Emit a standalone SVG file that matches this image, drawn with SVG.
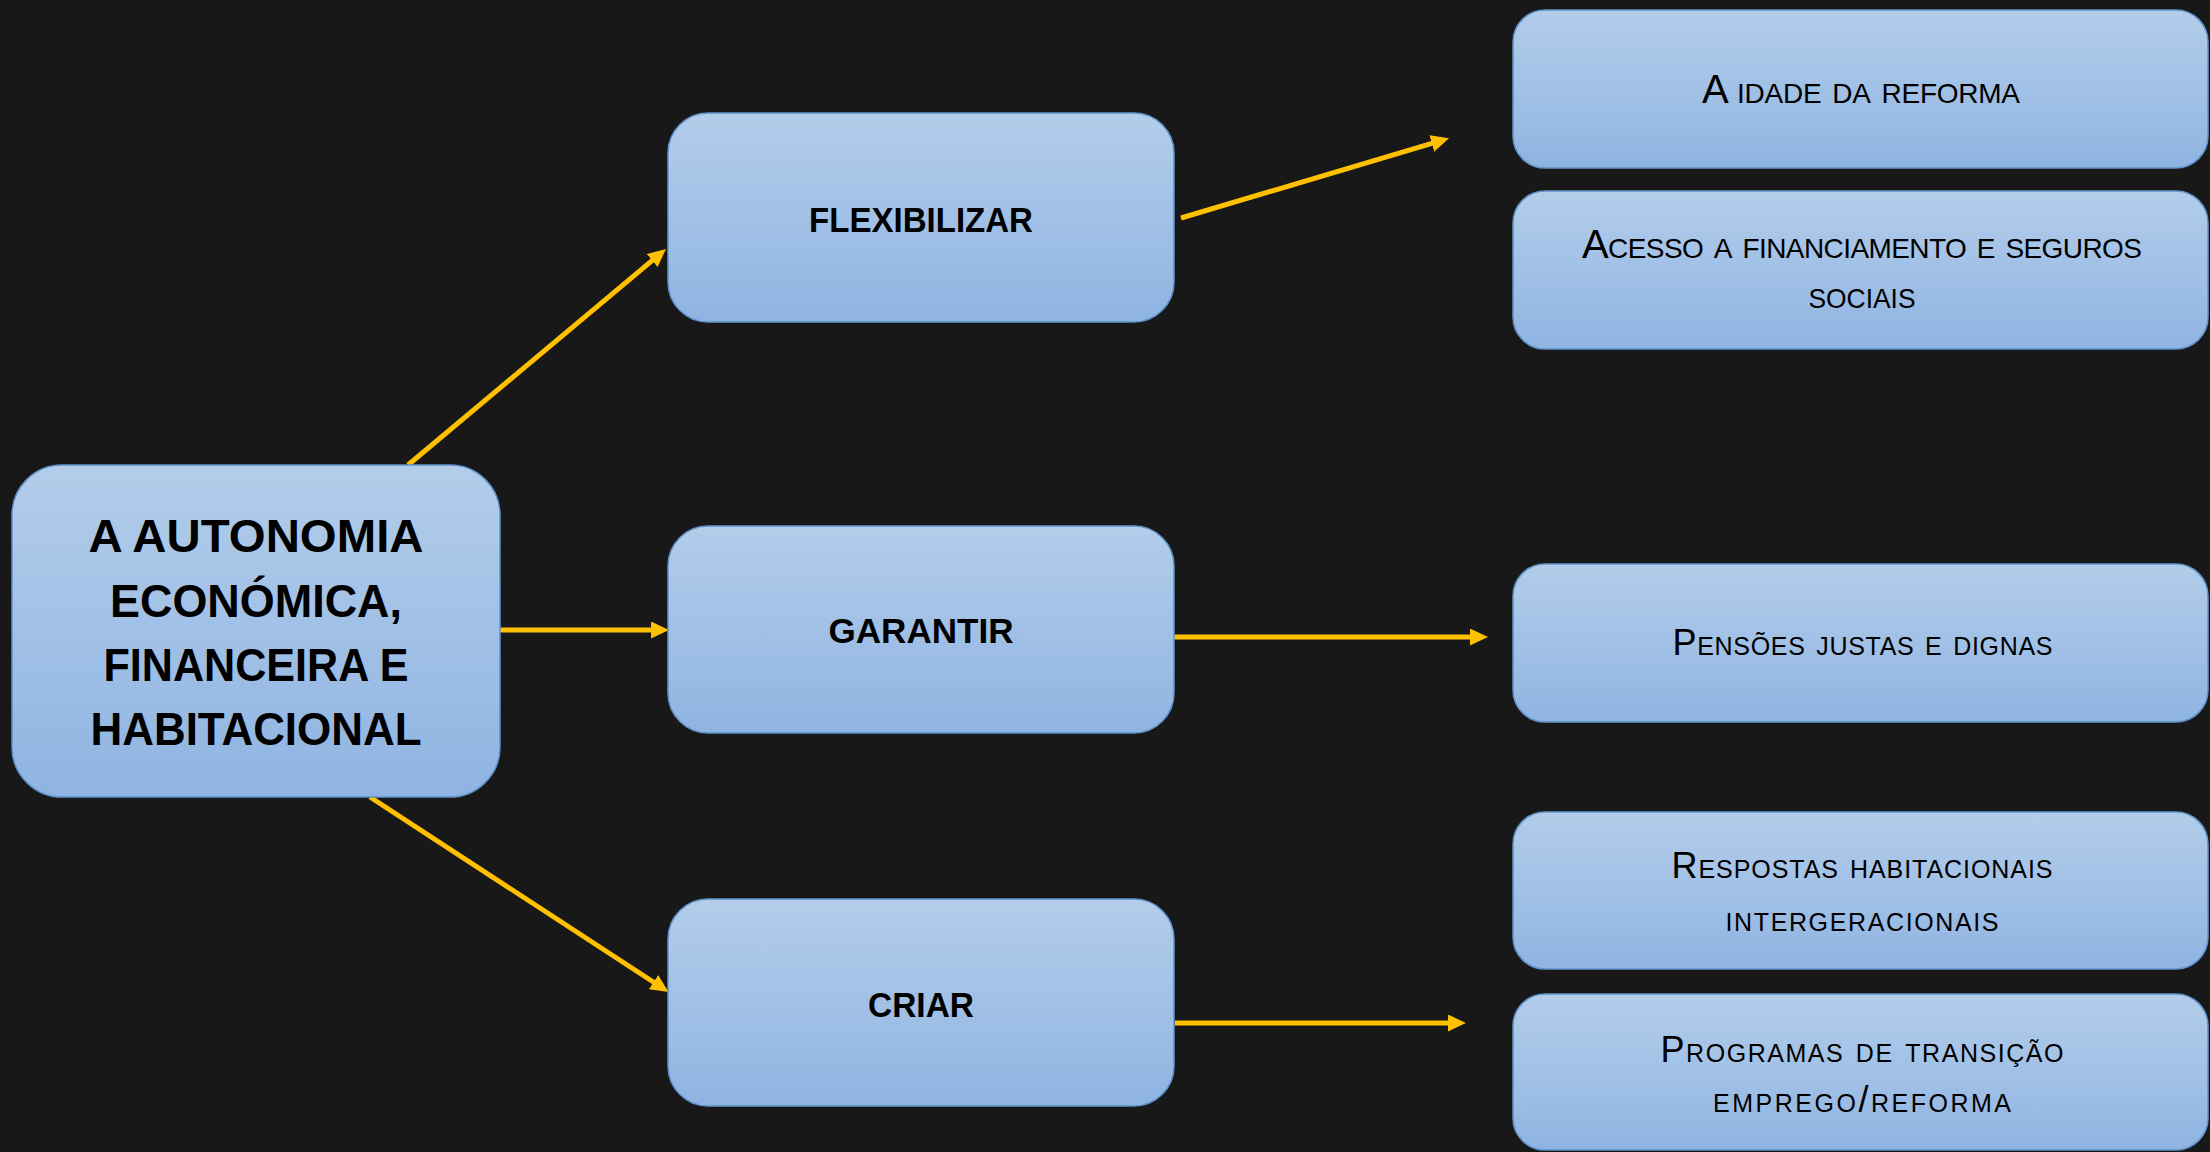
<svg xmlns="http://www.w3.org/2000/svg" width="2210" height="1152" viewBox="0 0 2210 1152">
  <style>
    .box { fill: url(#boxGrad); stroke: #5f93cc; stroke-width: 1.5; }
    .title { font-family: "Liberation Sans", Arial, sans-serif; font-weight: bold; fill: #000; text-anchor: middle; }
    .sc { font-family: "Liberation Sans", Arial, sans-serif; font-variant: small-caps; fill: #000; text-anchor: middle; }
    .conn { stroke: #ffc000; stroke-width: 5; fill: none; marker-end: url(#arrow); }
  </style>
  <defs>
    <linearGradient id="boxGrad" x1="0" y1="0" x2="0" y2="1">
      <stop offset="0" stop-color="#b3cdea"/>
      <stop offset="1" stop-color="#8fb4e2"/>
    </linearGradient>
    <marker id="arrow" markerUnits="userSpaceOnUse" markerWidth="20" markerHeight="18" refX="8" refY="8.5" orient="auto">
      <path d="M0,0 L18,8.5 L0,17 Z" fill="#ffc000"/>
    </marker>
  </defs>
  <rect x="0" y="0" width="2210" height="1152" fill="#181818"/>

  <g id="connectors">
    <line class="conn" x1="408" y1="465" x2="658.3" y2="255.4"/>
    <line class="conn" x1="500" y1="630" x2="659" y2="630"/>
    <line class="conn" x1="370" y1="797" x2="660.2" y2="986.5"/>
    <line class="conn" x1="1181" y1="218" x2="1439.4" y2="141.2"/>
    <line class="conn" x1="1174" y1="637" x2="1478" y2="637"/>
    <line class="conn" x1="1175" y1="1023" x2="1456" y2="1023"/>
  </g>

  <g id="node-main">
    <rect class="box" x="12" y="465" width="488" height="332" rx="50" ry="50"/>
    <text class="title" x="256" y="552" font-size="46" textLength="335" lengthAdjust="spacingAndGlyphs">A AUTONOMIA</text>
    <text class="title" x="256" y="617" font-size="46" textLength="292" lengthAdjust="spacingAndGlyphs">ECONÓMICA,</text>
    <text class="title" x="256" y="681" font-size="46" textLength="305" lengthAdjust="spacingAndGlyphs">FINANCEIRA E</text>
    <text class="title" x="256" y="745" font-size="46" textLength="331" lengthAdjust="spacingAndGlyphs">HABITACIONAL</text>
  </g>

  <g id="node-flexibilizar">
    <rect class="box" x="668" y="113" width="506" height="209" rx="40" ry="40"/>
    <text class="title" x="921" y="232" font-size="35" textLength="224" lengthAdjust="spacingAndGlyphs">FLEXIBILIZAR</text>
  </g>

  <g id="node-garantir">
    <rect class="box" x="668" y="526" width="506" height="207" rx="40" ry="40"/>
    <text class="title" x="921" y="643" font-size="35" textLength="185" lengthAdjust="spacingAndGlyphs">GARANTIR</text>
  </g>

  <g id="node-criar">
    <rect class="box" x="668" y="899" width="506" height="207" rx="40" ry="40"/>
    <text class="title" x="921" y="1017" font-size="35" textLength="106" lengthAdjust="spacingAndGlyphs">CRIAR</text>
  </g>

  <g id="node-idade">
    <rect class="box" x="1513" y="10" width="695" height="158" rx="32" ry="32"/>
    <text class="sc" x="1861" y="103" font-size="40" textLength="318" lengthAdjust="spacing">A idade da reforma</text>
  </g>

  <g id="node-acesso">
    <rect class="box" x="1513" y="191" width="695" height="158" rx="32" ry="32"/>
    <text class="sc" x="1862" y="258" font-size="40" textLength="560" lengthAdjust="spacing">Acesso a financiamento e seguros</text>
    <text class="sc" x="1862" y="308" font-size="40" textLength="107" lengthAdjust="spacingAndGlyphs">sociais</text>
  </g>

  <g id="node-pensoes">
    <rect class="box" x="1513" y="564" width="695" height="158" rx="32" ry="32"/>
    <text class="sc" x="1862.5" y="655" font-size="36" textLength="380" lengthAdjust="spacing">Pensões justas e dignas</text>
  </g>

  <g id="node-respostas">
    <rect class="box" x="1513" y="812" width="695" height="157" rx="32" ry="32"/>
    <text class="sc" x="1862" y="878" font-size="36" textLength="381" lengthAdjust="spacing">Respostas habitacionais</text>
    <text class="sc" x="1862" y="931" font-size="36" textLength="273" lengthAdjust="spacing">intergeracionais</text>
  </g>

  <g id="node-programas">
    <rect class="box" x="1513" y="994" width="695" height="156" rx="32" ry="32"/>
    <text class="sc" x="1862" y="1062" font-size="36" textLength="403" lengthAdjust="spacing">Programas de transição</text>
    <text class="sc" x="1862" y="1112" font-size="36" textLength="298" lengthAdjust="spacing">emprego/reforma</text>
  </g>
</svg>
